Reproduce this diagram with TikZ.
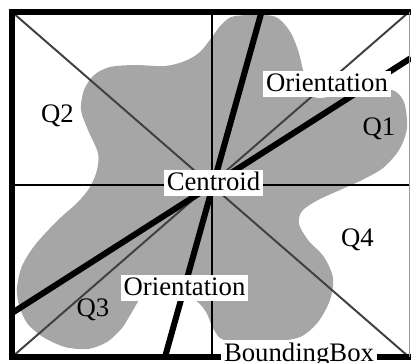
\documentclass[tikz,border=0pt]{standalone}
\usepackage{fontspec}
\setmainfont{Liberation Serif}
\begin{document}
\begin{tikzpicture}[x=0.025cm, y=-0.025cm,
        every node/.style={font=\fontsize{19}{22}\selectfont},
        blob/.style={fill=black!35},
        axis/.style={line width=1.4pt},
        diag/.style={black!75, line width=1.4pt},
        orient/.style={line width=4.3pt},
        frame/.style={line width=3.6pt},
        lbl/.style={fill=white, inner xsep=2pt, inner ysep=2pt, text height=13pt, text depth=2pt}]
        \useasboundingbox (0,0) rectangle (411,362);
        % corners, centroid
        \coordinate (tl) at (12,12);
        \coordinate (tr) at (409,12);
        \coordinate (bl) at (12,357);
        \coordinate (br) at (409,357);
        \coordinate (hl) at (12,185);
        \coordinate (hr) at (409,185);
        \coordinate (vt) at (212,12);
        \coordinate (vb) at (212,357);
        \coordinate (o1a) at (12,313);
        \coordinate (o1b) at (411,58);
        \coordinate (o2a) at (261.5,12);
        \coordinate (o2b) at (165,357);
        % the object
        \fill[blob] plot[smooth cycle] coordinates {(235,16) (273,16) (289,30) (298,50) (303,70) (309,92) (318,98) (340,95) (365,92) (392,90) (404,102) (407,128) (399,150) (383,168) (362,180) (340,190) (318,200) (302,211) (299,224) (308,240) (324,257) (333,278) (330,300) (318,322) (300,337) (270,342) (235,342) (220,338) (212,326) (206,312) (195,300) (165,285) (142,297) (132,312) (122,328) (107,342) (88,349) (65,347) (43,337) (27,323) (19,305) (17,288) (22,266) (35,245) (57,221) (78,202) (90,187) (97,170) (98,153) (88,130) (81,110) (84,90) (94,75) (110,67) (135,65) (165,66) (185,61) (200,52) (212,37) (222,24)};
        \draw[axis] (hl) -- (hr);
        \draw[axis] (vt) -- (vb);
        \draw[diag] (tl) -- (br);
        \draw[diag] (tr) -- (bl);
        \draw[orient] (o1a) -- (o1b);
        \draw[orient] (o2a) -- (o2b);
        \draw[frame] (411,12) -- (tl) -- (bl) -- (411,357);
        \draw[black!40, line width=0.7pt] (409.5,12) -- (409.5,357);
        % labels
        \node[lbl] (orient1) at (327,84) {Orientation};
        \node[lbl] (centroid) at (213.5,183) {Centroid};
        \node[lbl] (orient2) at (184.5,288) {Orientation};
        \node[lbl, anchor=base] (bbox) at (299,361) {BoundingBox};
        \node[anchor=base] (q1) at (379,135) {Q1};
        \node[anchor=base] (q2) at (57.5,122) {Q2};
        \node[anchor=base] (q3) at (93,316) {Q3};
        \node[anchor=base] (q4) at (357.5,246) {Q4};
\end{tikzpicture}
\end{document}
